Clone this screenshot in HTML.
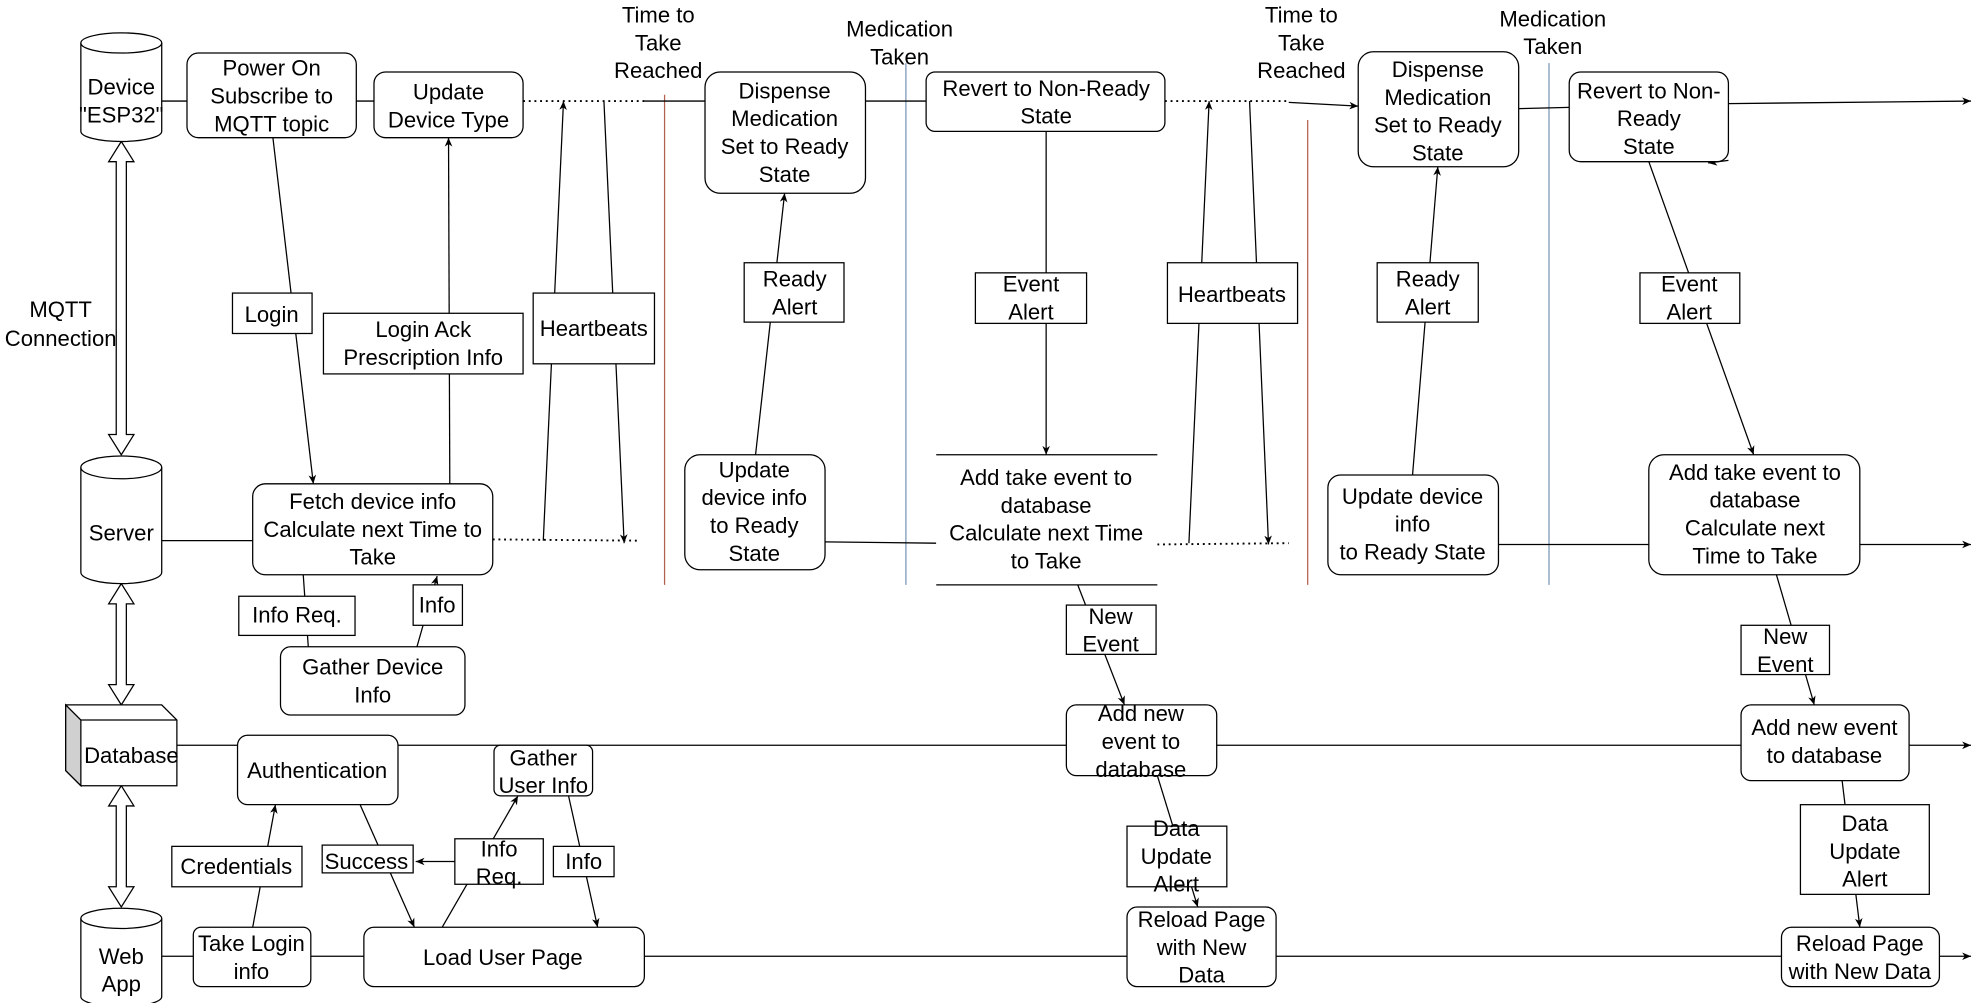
<!DOCTYPE html>
<html><head><meta charset="utf-8"><style>
html,body{margin:0;padding:0;background:#fff;}
svg{display:block;}
text{font-family:"Liberation Sans",sans-serif;font-size:17.5px;fill:#000;text-anchor:middle;dominant-baseline:central;}
.b{fill:#fff;stroke:#000;stroke-width:1;}
.l{stroke:#000;stroke-width:1;fill:none;}
.d{stroke:#000;stroke-width:1.5;fill:none;stroke-dasharray:1.5 3;}
</style></head><body>
<svg width="1971" height="1003" viewBox="0 0 1560 794" preserveAspectRatio="none" xmlns="http://www.w3.org/2000/svg">
<defs>
<marker id="a" markerWidth="8" markerHeight="8" refX="7" refY="4" orient="auto" markerUnits="userSpaceOnUse"><path d="M0,1 L7,4 L0,7 L2,4 Z" fill="#000"/></marker>
</defs>
<line x1="526" y1="75" x2="526" y2="463" stroke="#b5614f"/>
<line x1="717" y1="50" x2="717" y2="463" stroke="#7c97b6"/>
<line x1="1035" y1="95" x2="1035" y2="463" stroke="#b5614f"/>
<line x1="1226" y1="50" x2="1226" y2="463" stroke="#7c97b6"/>
<line class="l" x1="128" y1="80" x2="415" y2="80"/>
<line class="d" x1="414" y1="80" x2="510" y2="80"/>
<line class="l" x1="510" y1="80" x2="922" y2="80"/>
<line class="d" x1="922" y1="80" x2="1020" y2="80"/>
<line class="l" x1="1020" y1="81" x2="1075" y2="84" marker-end="url(#a)"/>
<line class="l" x1="1202" y1="86" x2="1242" y2="85"/>
<line class="l" x1="1368" y1="82" x2="1560" y2="80" marker-end="url(#a)"/>
<line class="l" x1="128" y1="428" x2="390" y2="428"/>
<line class="d" x1="390" y1="427" x2="505" y2="428"/>
<line class="l" x1="653" y1="429" x2="741" y2="430"/>
<line class="d" x1="916" y1="431" x2="1020" y2="430"/>
<line class="l" x1="1186" y1="431" x2="1560" y2="431" marker-end="url(#a)"/>
<line class="l" x1="140" y1="590" x2="1560" y2="590" marker-end="url(#a)"/>
<line class="l" x1="128" y1="757" x2="1560" y2="757" marker-end="url(#a)"/>
<g class="b">
<path d="M96,112 L106,128 L100,128 L100,344 L106,344 L96,360 L86,344 L92,344 L92,128 L86,128 Z"/>
<path d="M96,462 L106,478 L100,478 L100,542 L106,542 L96,558 L86,542 L92,542 L92,478 L86,478 Z"/>
<path d="M96,622 L106,638 L100,638 L100,702 L106,702 L96,718 L86,702 L92,702 L92,638 L86,638 Z"/>
</g>
<g class="b">
<path d="M64,34 L64,104 A32,8 0 0 0 128,104 L128,34 A32,8 0 0 0 64,34 Z"/><path d="M64,34 A32,8 0 0 0 128,34" fill="none"/>
<path d="M64,370 L64,453 A32,9 0 0 0 128,453 L128,370 A32,9 0 0 0 64,370 Z"/><path d="M64,370 A32,9 0 0 0 128,370" fill="none"/>
<path d="M64,727 L64,789 A32,8 0 0 0 128,789 L128,727 A32,8 0 0 0 64,727 Z"/><path d="M64,727 A32,8 0 0 0 128,727" fill="none"/>
</g>
<path d="M52,558 L128,558 L140,570 L140,622 L64,622 L52,610 Z" fill="#fff" stroke="#000"/>
<path d="M52,558 L64,570 L64,622 L52,610 Z" fill="#d0d0d0" stroke="#000"/>
<line class="l" x1="64" y1="570" x2="140" y2="570"/>
<text x="96" y="69">Device</text><text x="96" y="91">"ESP32"</text>
<text x="96" y="422">Server</text>
<text x="104" y="598">Database</text>
<text x="96" y="757">Web</text><text x="96" y="779">App</text>
<text x="48" y="245">MQTT</text><text x="48" y="268">Connection</text>
<text x="521" y="12">Time to</text><text x="521" y="34">Take</text><text x="521" y="56">Reached</text>
<text x="712" y="23">Medication</text><text x="712" y="45">Taken</text>
<text x="1030" y="12">Time to</text><text x="1030" y="34">Take</text><text x="1030" y="56">Reached</text>
<text x="1229" y="15">Medication</text><text x="1229" y="37">Taken</text>
<line class="l" x1="216" y1="109" x2="248" y2="383" marker-end="url(#a)"/>
<line class="l" x1="356" y1="383" x2="355" y2="109" marker-end="url(#a)"/>
<line class="l" x1="430" y1="428" x2="446" y2="80" marker-end="url(#a)"/>
<line class="l" x1="478" y1="80" x2="494" y2="430" marker-end="url(#a)"/>
<line class="l" x1="598" y1="360" x2="621" y2="153" marker-end="url(#a)"/>
<line class="l" x1="828" y1="104" x2="828" y2="360" marker-end="url(#a)"/>
<line class="l" x1="941" y1="430" x2="957" y2="80" marker-end="url(#a)"/>
<line class="l" x1="989" y1="80" x2="1004" y2="431" marker-end="url(#a)"/>
<line class="l" x1="1118" y1="376" x2="1138" y2="132" marker-end="url(#a)"/>
<line class="l" x1="1305" y1="128" x2="1388" y2="360" marker-end="url(#a)"/>
<line class="l" x1="1368" y1="127" x2="1352" y2="129" marker-end="url(#a)"/>
<line class="l" x1="240" y1="455" x2="244" y2="512"/>
<line class="l" x1="330" y1="512" x2="346" y2="456" marker-end="url(#a)"/>
<line class="l" x1="853" y1="463" x2="890" y2="558" marker-end="url(#a)"/>
<line class="l" x1="1406" y1="455" x2="1436" y2="558" marker-end="url(#a)"/>
<line class="l" x1="916" y1="614" x2="948" y2="718" marker-end="url(#a)"/>
<line class="l" x1="1458" y1="618" x2="1472" y2="734" marker-end="url(#a)"/>
<line class="l" x1="200" y1="734" x2="218" y2="637" marker-end="url(#a)"/>
<line class="l" x1="285" y1="637" x2="328" y2="734" marker-end="url(#a)"/>
<line class="l" x1="350" y1="734" x2="410" y2="630" marker-end="url(#a)"/>
<line class="l" x1="450" y1="630" x2="473" y2="734" marker-end="url(#a)"/>
<line class="l" x1="360" y1="682" x2="329" y2="682" marker-end="url(#a)"/>
<g class="b">
<rect x="148" y="42" width="134" height="67" rx="9"/>
<rect x="296" y="57" width="118" height="52" rx="9"/>
<rect x="558" y="57" width="127" height="96" rx="12"/>
<rect x="733" y="57" width="189" height="47" rx="7"/>
<rect x="1075" y="41" width="127" height="91" rx="12"/>
<rect x="1242" y="57" width="126" height="71" rx="9"/>
<rect x="200" y="383" width="190" height="72" rx="10"/>
<rect x="542" y="360" width="111" height="91" rx="12"/>
<rect x="741" y="360" width="175" height="103" rx="0" stroke="none"/>
<rect x="1051" y="376" width="135" height="79" rx="10"/>
<rect x="1305" y="360" width="167" height="95" rx="12"/>
<rect x="222" y="512" width="146" height="54" rx="8"/>
<rect x="188" y="582" width="127" height="55" rx="8"/>
<rect x="391" y="590" width="78" height="40" rx="5"/>
<rect x="844" y="558" width="119" height="56" rx="8"/>
<rect x="1378" y="558" width="133" height="60" rx="8"/>
<rect x="153" y="734" width="93" height="47" rx="6"/>
<rect x="288" y="734" width="222" height="47" rx="8"/>
<rect x="892" y="718" width="118" height="63" rx="8"/>
<rect x="1410" y="734" width="125" height="47" rx="8"/>
</g>
<line class="l" x1="741" y1="360" x2="916" y2="360"/>
<line class="l" x1="741" y1="463" x2="916" y2="463"/>
<g class="b">
<rect x="184" y="232" width="63" height="32"/>
<rect x="256" y="248" width="158" height="48"/>
<rect x="422" y="232" width="96" height="56"/>
<rect x="589" y="208" width="79" height="47"/>
<rect x="772" y="216" width="88" height="40"/>
<rect x="924" y="208" width="103" height="48"/>
<rect x="1090" y="208" width="80" height="47"/>
<rect x="1298" y="216" width="79" height="40"/>
<rect x="189" y="472" width="92" height="31"/>
<rect x="327" y="463" width="39" height="32"/>
<rect x="844" y="479" width="71" height="39"/>
<rect x="1378" y="495" width="70" height="39"/>
<rect x="136" y="670" width="103" height="32"/>
<rect x="255" y="669" width="72" height="22"/>
<rect x="360" y="664" width="70" height="36"/>
<rect x="438" y="670" width="48" height="24"/>
<rect x="892" y="654" width="79" height="48"/>
<rect x="1425" y="637" width="102" height="71"/>
</g>
<text x="215" y="54">Power On</text><text x="215" y="76">Subscribe to</text><text x="215" y="98">MQTT topic</text>
<text x="355" y="73">Update</text><text x="355" y="95">Device Type</text>
<text x="621" y="72">Dispense</text><text x="621" y="94">Medication</text><text x="621" y="116">Set to Ready</text><text x="621" y="138">State</text>
<text x="828" y="70">Revert to Non-Ready</text><text x="828" y="92">State</text>
<text x="1138" y="55">Dispense</text><text x="1138" y="77">Medication</text><text x="1138" y="99">Set to Ready</text><text x="1138" y="121">State</text>
<text x="1305" y="72">Revert to Non-</text><text x="1305" y="94">Ready</text><text x="1305" y="116">State</text>
<text x="295" y="397">Fetch device info</text><text x="295" y="419">Calculate next Time to</text><text x="295" y="441">Take</text>
<text x="597" y="372">Update</text><text x="597" y="394">device info</text><text x="597" y="416">to Ready</text><text x="597" y="438">State</text>
<text x="828" y="378">Add take event to</text><text x="828" y="400">database</text><text x="828" y="422">Calculate next Time</text><text x="828" y="444">to Take</text>
<text x="1118" y="393">Update device</text><text x="1118" y="415">info</text><text x="1118" y="437">to Ready State</text>
<text x="1389" y="374">Add take event to</text><text x="1389" y="396">database</text><text x="1389" y="418">Calculate next</text><text x="1389" y="440">Time to Take</text>
<text x="295" y="528">Gather Device</text><text x="295" y="550">Info</text>
<text x="251" y="610">Authentication</text>
<text x="430" y="600">Gather</text><text x="430" y="622">User Info</text>
<text x="903" y="565">Add new</text><text x="903" y="587">event to</text><text x="903" y="609">database</text>
<text x="1444" y="576">Add new event</text><text x="1444" y="598">to database</text>
<text x="199" y="747">Take Login</text><text x="199" y="769">info</text>
<text x="398" y="758">Load User Page</text>
<text x="951" y="728">Reload Page</text><text x="951" y="750">with New</text><text x="951" y="772">Data</text>
<text x="1472" y="747">Reload Page</text><text x="1472" y="769">with New Data</text>
<text x="215" y="249">Login</text>
<text x="335" y="261">Login Ack</text><text x="335" y="283">Prescription Info</text>
<text x="470" y="260">Heartbeats</text>
<text x="629" y="221">Ready</text><text x="629" y="243">Alert</text>
<text x="816" y="225">Event</text><text x="816" y="247">Alert</text>
<text x="975" y="233">Heartbeats</text>
<text x="1130" y="221">Ready</text><text x="1130" y="243">Alert</text>
<text x="1337" y="225">Event</text><text x="1337" y="247">Alert</text>
<text x="235" y="487">Info Req.</text>
<text x="346" y="479">Info</text>
<text x="879" y="488">New</text><text x="879" y="510">Event</text>
<text x="1413" y="504">New</text><text x="1413" y="526">Event</text>
<text x="187" y="686">Credentials</text>
<text x="290" y="682">Success</text>
<text x="395" y="672">Info</text><text x="395" y="694">Req.</text>
<text x="462" y="682">Info</text>
<text x="931" y="656">Data</text><text x="931" y="678">Update</text><text x="931" y="700">Alert</text>
<text x="1476" y="652">Data</text><text x="1476" y="674">Update</text><text x="1476" y="696">Alert</text>
</svg>
</body></html>
